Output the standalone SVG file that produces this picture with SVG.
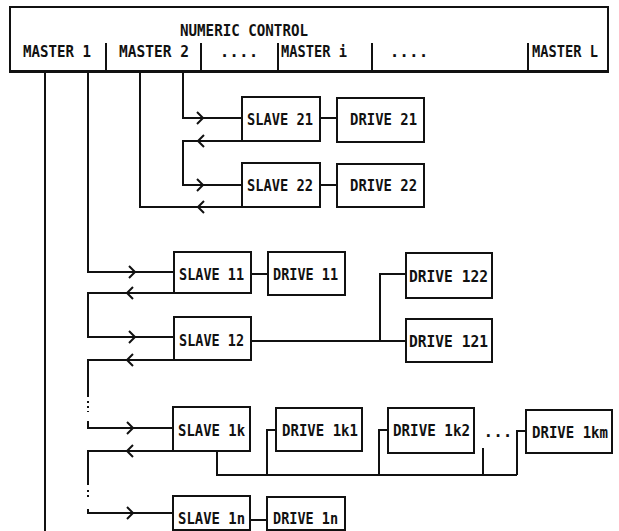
<svg xmlns="http://www.w3.org/2000/svg" xmlns:xlink="http://www.w3.org/1999/xlink" width="619" height="531" viewBox="0 0 619 531">
<style>
.bx{fill:#fff;stroke:#111;stroke-width:2}
.ln{fill:none;stroke:#111;stroke-width:2}
.dt{fill:none;stroke:#111;stroke-width:2;stroke-dasharray:2 3}
.t{font-family:"DejaVu Sans Mono","Liberation Mono",monospace;font-size:16px;font-weight:bold;fill:#111}
</style>
<defs>
<path id="cr" d="M-6,-6 L0,0 L-6,6" fill="none" stroke="#111" stroke-width="2"/>
<path id="cl" d="M6,-6 L0,0 L6,6" fill="none" stroke="#111" stroke-width="2"/>
</defs>
<rect width="619" height="531" fill="#fff"/>

<g id="connectors">
<path class="ln" d="M45,72 V531"/>
<path class="ln" d="M88,72 V272 H174"/>
<path class="ln" d="M174,293 H88 V337 H174"/>
<path class="ln" d="M174,360 H88 V397"/>
<path class="dt" d="M88,401 V412"/>
<path class="ln" d="M88,421 V428 H173"/>
<path class="ln" d="M173,451 H88 V485"/>
<path class="dt" d="M88,490 V500"/>
<path class="ln" d="M88,509 V513 H173"/>
<path class="ln" d="M183,72 V118 H242"/>
<path class="ln" d="M242,141 H183 V185 H242"/>
<path class="ln" d="M140,72 V207 H242"/>
<use href="#cr" x="203" y="118"/>
<use href="#cl" x="198" y="141"/>
<use href="#cr" x="203" y="185"/>
<use href="#cl" x="198" y="207"/>
<use href="#cr" x="135" y="272"/>
<use href="#cl" x="127" y="293"/>
<use href="#cr" x="135" y="337"/>
<use href="#cl" x="127" y="360"/>
<use href="#cr" x="133" y="428"/>
<use href="#cl" x="127" y="451"/>
<use href="#cr" x="133" y="513"/>
<path class="ln" d="M320,118 H337"/>
<path class="ln" d="M320,185 H337"/>
<path class="ln" d="M251,274 H268"/>
<path class="ln" d="M251,341 H406 M380,341 V274 H406"/>
<path class="ln" d="M217,451 V475 H517 M267,475 V430 H276 M379,475 V430 H388 M483,475 V448 M517,475 V431 H526"/>
<path class="ln" d="M250,520 H267"/>
</g>

<g id="numeric-control">
<rect class="bx" x="10" y="7" width="598" height="65"/>
<path class="ln" d="M10,71 H608" stroke-width="3.5"/>
<path class="ln" d="M106,43 V71 M201,43 V71 M278,43 V71 M372,43 V71 M528,43 V71"/>
<text class="t" x="180" y="36" textLength="128" lengthAdjust="spacingAndGlyphs">NUMERIC CONTROL</text>
<text class="t" x="23" y="57" textLength="68" lengthAdjust="spacingAndGlyphs">MASTER 1</text>
<text class="t" x="119" y="57" textLength="70" lengthAdjust="spacingAndGlyphs">MASTER 2</text>
<text class="t" x="239" y="57" text-anchor="middle">....</text>
<text class="t" x="281" y="57" textLength="66" lengthAdjust="spacingAndGlyphs">MASTER i</text>
<text class="t" x="409" y="57" text-anchor="middle">....</text>
<text class="t" x="532" y="57" textLength="66" lengthAdjust="spacingAndGlyphs">MASTER L</text>
</g>

<g id="slave21"><rect class="bx" x="242" y="97" width="78" height="44"/><text class="t" x="247" y="125" textLength="66" lengthAdjust="spacingAndGlyphs">SLAVE 21</text></g>
<g id="drive21"><rect class="bx" x="337" y="98" width="87" height="44"/><text class="t" x="350" y="125" textLength="67" lengthAdjust="spacingAndGlyphs">DRIVE 21</text></g>
<g id="slave22"><rect class="bx" x="242" y="163" width="78" height="44"/><text class="t" x="247" y="191" textLength="66" lengthAdjust="spacingAndGlyphs">SLAVE 22</text></g>
<g id="drive22"><rect class="bx" x="337" y="164" width="87" height="43"/><text class="t" x="350" y="191" textLength="67" lengthAdjust="spacingAndGlyphs">DRIVE 22</text></g>

<g id="slave11"><rect class="bx" x="174" y="252" width="77" height="41"/><text class="t" x="179" y="280" textLength="65" lengthAdjust="spacingAndGlyphs">SLAVE 11</text></g>
<g id="drive11"><rect class="bx" x="268" y="252" width="77" height="43"/><text class="t" x="273" y="280" textLength="65" lengthAdjust="spacingAndGlyphs">DRIVE 11</text></g>
<g id="slave12"><rect class="bx" x="174" y="317" width="77" height="43"/><text class="t" x="179" y="346" textLength="65" lengthAdjust="spacingAndGlyphs">SLAVE 12</text></g>
<g id="drive122"><rect class="bx" x="406" y="253" width="86" height="45"/><text class="t" x="409" y="282" textLength="79" lengthAdjust="spacingAndGlyphs">DRIVE 122</text></g>
<g id="drive121"><rect class="bx" x="406" y="319" width="86" height="43"/><text class="t" x="409" y="347" textLength="79" lengthAdjust="spacingAndGlyphs">DRIVE 121</text></g>

<g id="slave1k"><rect class="bx" x="173" y="407" width="77" height="44"/><text class="t" x="178" y="436" textLength="67" lengthAdjust="spacingAndGlyphs">SLAVE 1k</text></g>
<g id="drive1k1"><rect class="bx" x="276" y="408" width="86" height="43"/><text class="t" x="282" y="436" textLength="76" lengthAdjust="spacingAndGlyphs">DRIVE 1k1</text></g>
<g id="drive1k2"><rect class="bx" x="388" y="408" width="86" height="45"/><text class="t" x="393" y="436" textLength="77" lengthAdjust="spacingAndGlyphs">DRIVE 1k2</text></g>
<text class="t" x="498" y="437" text-anchor="middle">...</text>
<g id="drive1km"><rect class="bx" x="526" y="410" width="86" height="43"/><text class="t" x="532" y="438" textLength="76" lengthAdjust="spacingAndGlyphs">DRIVE 1km</text></g>

<g id="slave1n"><rect class="bx" x="173" y="496" width="77" height="34"/><text class="t" x="178" y="524" textLength="67" lengthAdjust="spacingAndGlyphs">SLAVE 1n</text></g>
<g id="drive1n"><rect class="bx" x="267" y="497" width="78" height="33"/><text class="t" x="273" y="524" textLength="65" lengthAdjust="spacingAndGlyphs">DRIVE 1n</text></g>
</svg>
